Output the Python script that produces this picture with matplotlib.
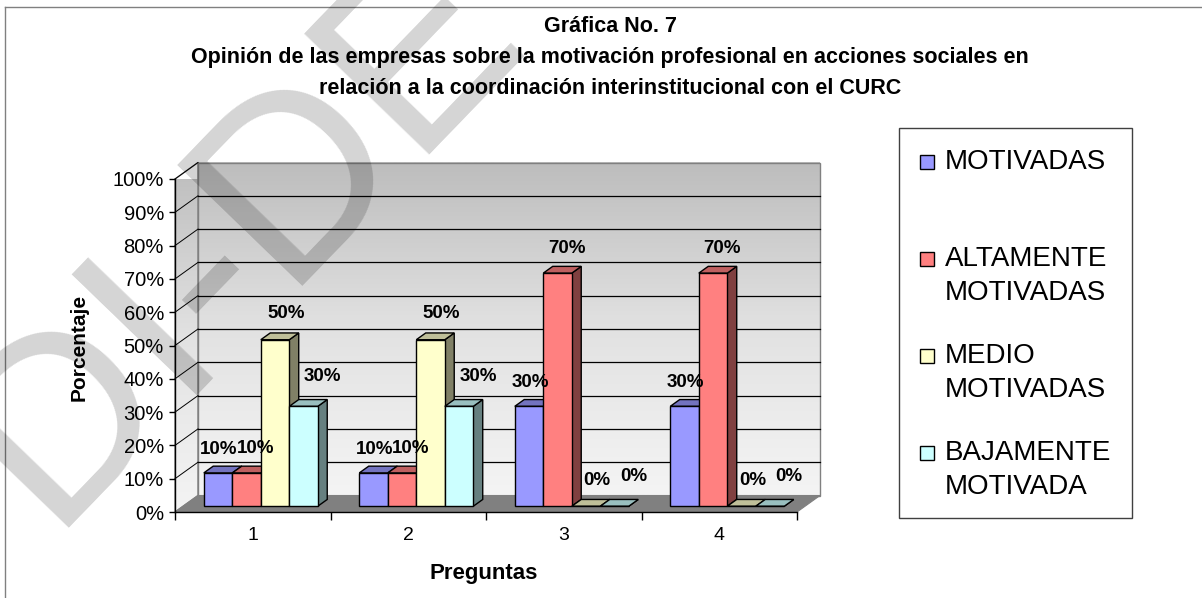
import numpy as np
import matplotlib
matplotlib.use("Agg")
import matplotlib.pyplot as plt
from matplotlib.patches import Polygon, Rectangle
from matplotlib.colors import LinearSegmentedColormap, to_rgb
from matplotlib.lines import Line2D

# ---------------- data ----------------
categories = ["1", "2", "3", "4"]
series_names = ["MOTIVADAS", "ALTAMENTE\nMOTIVADAS", "MEDIO\nMOTIVADAS", "BAJAMENTE\nMOTIVADA"]
motivadas = [10, 10, 30, 30]
altamente = [10, 10, 70, 70]
medio = [50, 50, 0, 0]
bajamente = [30, 30, 0, 0]
yticks = list(range(0, 101, 10))
ytick_labels = [f"{v}%" for v in yticks]
title_lines = ["Gráfica No. 7",
               "Opinión de las empresas sobre la motivación profesional en acciones sociales en",
               "relación a la coordinación interinstitucional con el CURC"]
xlabel = "Preguntas"
ylabel = "Porcentaje"
watermark = "DI-DE"

series_values = [motivadas, altamente, medio, bajamente]
colors = ["#9999FF", "#FF8080", "#FFFFCC", "#CCFFFF"]
label_offsets_px = [(1, 17), (9, 18), (11, 19), (19, 23)]

plt.rcParams['font.family'] = ['Liberation Sans', 'DejaVu Sans']

W, H = 1202, 598
fig = plt.figure(figsize=(W / 100, H / 100), dpi=100)

def fx(px):
    return px / W

def fy(py):
    return 1 - py / H

# front plane of the 3D box
ax = fig.add_axes([fx(175), fy(512), fx(797) - fx(175), fy(179) - fy(512)])
ax.set_xlim(-0.5, 3.5)
ax.set_ylim(0, 100)
ax.patch.set_visible(False)

DX = 23 / 155.5     # depth offset in category units
DY = 16.5 / 3.33    # depth offset in percent units
d0, d1 = 0.35, 0.76  # bar depth range
bw = 0.1833

x0, x1 = -0.5, 3.5

# walls gradient
cmap = LinearSegmentedColormap.from_list("wall", ["#f4f4f4", "#e2e2e2", "#bdbdbd"])
grad = np.linspace(0, 1, 256).reshape(-1, 1)
ax.imshow(grad, extent=(x0 + DX, x1 + DX, DY, 100 + DY), origin='lower', cmap=cmap,
          aspect='auto', clip_on=False, zorder=0, interpolation='bilinear')
left_wall = Polygon([(x0, 0), (x0 + DX, DY), (x0 + DX, 100 + DY), (x0, 100)],
                    closed=True, facecolor='none', edgecolor='none', transform=ax.transData)
ax.add_patch(left_wall)
im2 = ax.imshow(grad, extent=(x0, x0 + DX, 0, 100 + DY), origin='lower', cmap=cmap,
                aspect='auto', zorder=0, interpolation='bilinear')
im2.set_clip_path(left_wall)
ax.set_xlim(-0.5, 3.5)
ax.set_ylim(0, 100)

# wall outlines
ax.add_patch(Rectangle((x0 + DX, DY), x1 - x0, 100, fill=False, edgecolor='#808080',
                       lw=1, clip_on=False, zorder=1))
ax.add_patch(Polygon([(x0, 0), (x0 + DX, DY), (x0 + DX, 100 + DY), (x0, 100)], closed=True,
                     fill=False, edgecolor='#808080', lw=1, clip_on=False, zorder=1))

# gridlines
for v in yticks[1:]:
    if v < 100:
        ax.plot([x0 + DX, x1 + DX], [v + DY, v + DY], color='black', lw=0.9,
                clip_on=False, zorder=1.5)
    ax.plot([x0, x0 + DX], [v, v + DY], color='black', lw=0.7, clip_on=False, zorder=1.5)

# floor
ax.add_patch(Polygon([(x0, 0), (x1, 0), (x1 + DX, DY), (x0 + DX, DY)], closed=True,
                     facecolor='#808080', edgecolor='#808080', lw=0.8, clip_on=False, zorder=2))

def shade(c, f):
    r, g, b = to_rgb(c)
    return (r * f, g * f, b * f)

# bars
z = 3
for j in range(len(categories)):
    for i, vals in enumerate(series_values):
        v = vals[j]
        xl = j - 2 * bw + i * bw
        xr = xl + bw
        c = colors[i]
        side = [(xr + d0 * DX, d0 * DY), (xr + d1 * DX, d1 * DY),
                (xr + d1 * DX, v + d1 * DY), (xr + d0 * DX, v + d0 * DY)]
        top = [(xl + d0 * DX, v + d0 * DY), (xr + d0 * DX, v + d0 * DY),
               (xr + d1 * DX, v + d1 * DY), (xl + d1 * DX, v + d1 * DY)]
        ax.add_patch(Polygon(side, closed=True, facecolor=shade(c, 0.5), edgecolor='black',
                             lw=1, clip_on=False, zorder=z))
        ax.add_patch(Polygon(top, closed=True, facecolor=shade(c, 0.75), edgecolor='black',
                             lw=1, clip_on=False, zorder=z))
        ax.bar(xl + d0 * DX, v, width=bw, bottom=d0 * DY, align='edge', color=c,
               edgecolor='black', lw=1, clip_on=False, zorder=z + 0.1)
        z += 0.2
        ox, oy = label_offsets_px[i]
        ax.annotate(f"{v}%", xy=(xl + bw / 2 + d0 * DX, v + d1 * DY), xytext=(ox, oy),
                    textcoords='offset pixels', ha='center', va='center',
                    fontsize=13.5, fontweight='bold', zorder=20, annotation_clip=False)

# axes styling
for s in ['top', 'right']:
    ax.spines[s].set_visible(False)
ax.spines['left'].set_linewidth(1)
ax.spines['bottom'].set_linewidth(1)
ax.spines['left'].set_zorder(10)
ax.spines['bottom'].set_zorder(10)
ax.set_yticks(yticks)
ax.set_yticklabels(ytick_labels, fontsize=14.5)
ax.tick_params(axis='y', length=4, width=1, pad=4)
ax.set_xticks([-0.5, 0.5, 1.5, 2.5, 3.5])
ax.set_xticklabels([])
ax.tick_params(axis='x', which='major', length=6, width=1)
ax.set_xticks(range(len(categories)), minor=True)
ax.set_xticklabels(categories, minor=True, fontsize=14)
ax.tick_params(axis='x', which='minor', length=0, pad=11)

# titles and axis labels
for k, line in enumerate(title_lines):
    fig.text(fx(610), fy(27 + 30.5 * k), line, ha='center', va='center',
             fontsize=15.5, fontweight='bold')
fig.text(fx(79), fy(347), ylabel, rotation=90, ha='center', va='center',
         fontsize=15, fontweight='bold')
fig.text(fx(484), fy(573), xlabel, ha='center', va='center', fontsize=16, fontweight='bold')

# legend (manual, Excel-like)
fig.add_artist(Rectangle((fx(899), fy(518)), fx(1132) - fx(899), fy(128) - fy(518),
                         transform=fig.transFigure, fill=False, edgecolor='#404040', lw=1))
for i, name in enumerate(series_names):
    cy = 162 + 97 * i
    fig.add_artist(Rectangle((fx(920), fy(cy + 7)), fx(14), 14 / H, transform=fig.transFigure,
                             facecolor=colors[i], edgecolor='black', lw=1))
    for k, part in enumerate(name.split("\n")):
        fig.text(fx(945), fy(cy + 34 * k), part, ha='left', va='center', fontsize=20)

# outer chart border
fig.add_artist(Line2D([fx(5), fx(5)], [fy(7), 0], transform=fig.transFigure, color='#808080', lw=1))
fig.add_artist(Line2D([fx(5), 1], [fy(7), fy(7)], transform=fig.transFigure, color='#808080', lw=1))

# watermark
fig.text(fx(48), fy(528), watermark, rotation=46, rotation_mode='anchor', ha='left',
         va='baseline', fontsize=182, color='black', alpha=0.17, zorder=100)

fig.savefig("out.png", dpi=100)
